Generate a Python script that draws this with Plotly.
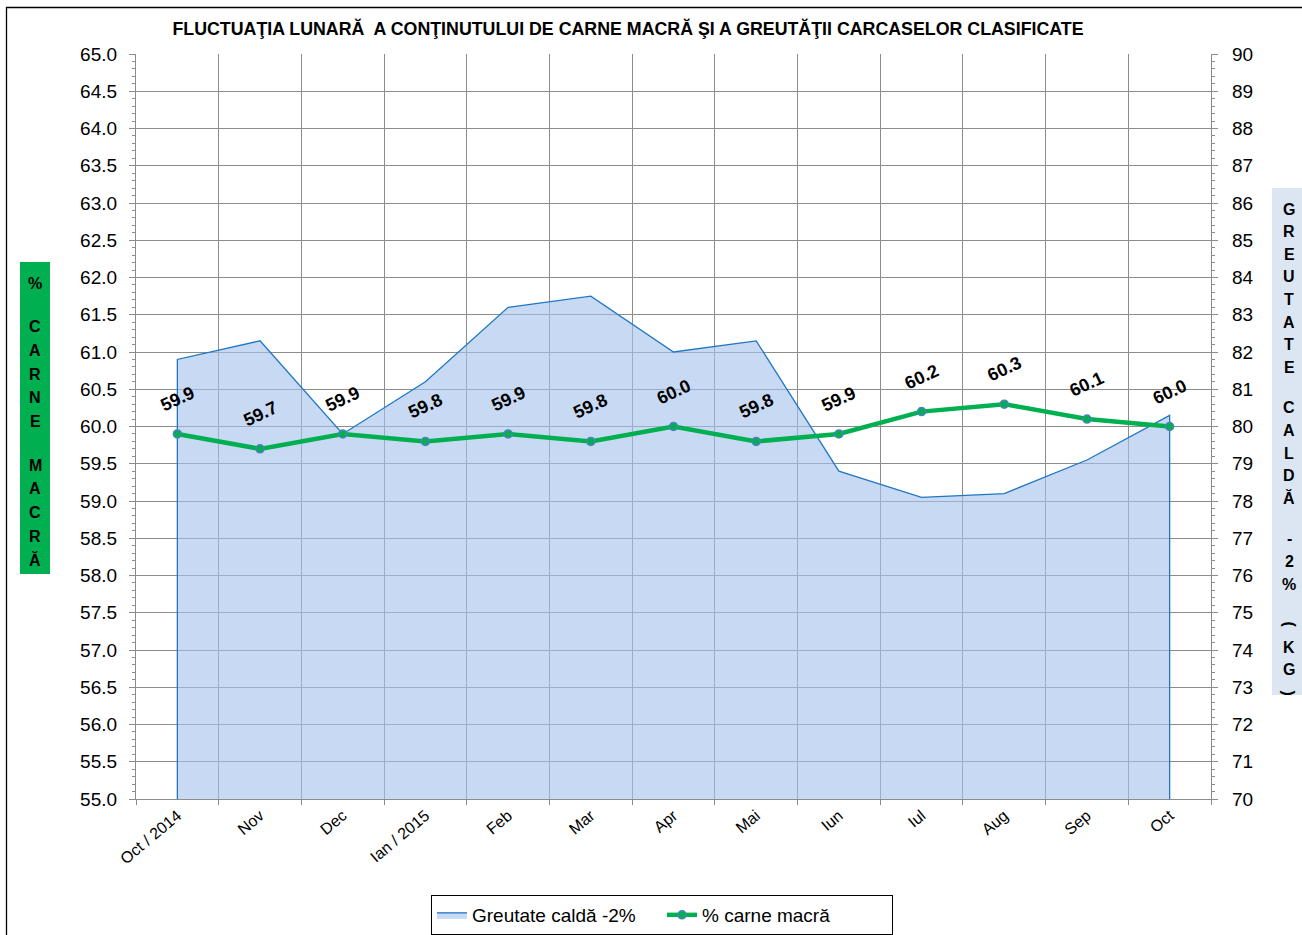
import plotly.graph_objects as go

# ---------------- data ----------------
months = ["Oct / 2014", "Nov", "Dec", "Ian / 2015", "Feb", "Mar", "Apr",
          "Mai", "Iun", "Iul", "Aug", "Sep", "Oct"]
greutate = [81.8, 82.3, 79.8, 81.2, 83.2, 83.5, 82.0, 82.3, 78.8, 78.1, 78.2, 79.1, 80.3]
carne = [59.9, 59.7, 59.9, 59.8, 59.9, 59.8, 60.0, 59.8, 59.9, 60.2, 60.3, 60.1, 60.0]

title_text = "FLUCTUAŢIA LUNARĂ  A CONŢINUTULUI DE CARNE MACRĂ ŞI A GREUTĂŢII CARCASELOR CLASIFICATE"
left_title = "% CARNE MACRĂ"
right_title = "GREUTATE CALDĂ -2% (KG)"
name_area = "Greutate caldă -2%"
name_line = "% carne macră"

carne_range = [55, 65]
greutate_range = [70, 90]

# ---------------- layout helpers ----------------
W, H = 1302, 935
ML, MR, MT, MB = 136, 91, 54, 136
PW, PH = W - ML - MR, H - MT - MB


def px(x):
    return (x - ML) / PW


def py(y):
    return (H - MB - y) / PH


FONT = "Liberation Sans, Arial, sans-serif"
GRID = "#8c8c8c"

fig = go.Figure()

# area (closed polygon down to the weight-axis minimum) on the base (right) axis
area_x = [months[0]] + months + [months[-1]]
area_y = [greutate_range[0]] + greutate + [greutate_range[0]]
fig.add_trace(go.Scatter(
    x=area_x, y=area_y, yaxis="y", mode="lines", fill="toself",
    fillcolor="rgba(166,196,235,0.62)",
    line=dict(color="#1f77c4", width=1.3),
    name=name_area, hoverinfo="skip"))

# lean meat line on the overlaying (left) axis, drawn above the area
fig.add_trace(go.Scatter(
    x=months, y=carne, yaxis="y2", mode="lines+markers",
    line=dict(color="#00b050", width=4.5),
    marker=dict(size=8, color="#00b050", line=dict(color="#4f81bd", width=1.5)),
    name=name_line))

annotations = []
for m, v in zip(months, carne):
    annotations.append(dict(
        x=m, y=v, xref="x", yref="y2", text=f"<b>{v:.1f}</b>", showarrow=False,
        yshift=35, textangle=-25, font=dict(family=FONT, size=18, color="black")))


def stacked(text, xc, ytop, step, space_step, color="black", size=16):
    out = []
    y = ytop
    for ch in text:
        if ch == " ":
            y += space_step
            continue
        ang = 90 if ch in "()" else 0
        out.append(dict(x=px(xc), y=py(y), xref="paper", yref="paper",
                        text=f"<b>{ch}</b>", showarrow=False, textangle=ang,
                        xanchor="center", yanchor="middle",
                        font=dict(family=FONT, size=size, color=color)))
        y += step
    return out


annotations += stacked(left_title, 35, 283, 23.7, 20)
annotations += stacked(right_title, 1289, 209, 22.6, 18)

shapes = [
    dict(type="rect", xref="paper", yref="paper", x0=px(20), x1=px(50),
         y0=py(262), y1=py(574), fillcolor="#00b050", line=dict(width=0), layer="below"),
    dict(type="rect", xref="paper", yref="paper", x0=px(1272), x1=px(1310),
         y0=py(188), y1=py(695), fillcolor="#dce6f2", line=dict(width=0), layer="below"),
    dict(type="rect", xref="paper", yref="paper", x0=px(6.5), x1=px(1320),
         y0=py(7.5), y1=py(960), fillcolor="rgba(0,0,0,0)",
         line=dict(color="black", width=1.3)),
]

fig.update_layout(
    width=W, height=H,
    margin=dict(l=ML, r=MR, t=MT, b=MB, autoexpand=False),
    paper_bgcolor="white", plot_bgcolor="white",
    font=dict(family=FONT, color="black"),
    title=dict(text=f"<b>{title_text}</b>", x=628 / W, y=1 - 29 / H,
               xanchor="center", yanchor="middle",
               font=dict(family=FONT, size=17.8, color="black")),
    xaxis=dict(type="category", categoryorder="array", categoryarray=months,
               range=[-0.5, len(months) - 0.5], tickson="boundaries",
               showgrid=True, gridcolor=GRID, gridwidth=1.2,
               showline=True, linecolor=GRID, linewidth=1.3,
               ticks="outside", ticklen=5, tickcolor=GRID, tickangle=-40,
               tickfont=dict(family=FONT, size=16), zeroline=False, automargin=False),
    yaxis=dict(range=greutate_range, dtick=1, side="right",
               showgrid=True, gridcolor=GRID, gridwidth=1.2,
               showline=True, linecolor=GRID, linewidth=1.3,
               ticks="outside", ticklen=6, tickcolor=GRID,
               minor=dict(dtick=0.2, ticks="outside", ticklen=3, tickcolor=GRID, showgrid=False),
               tickfont=dict(family=FONT, size=19), ticklabelstandoff=10, zeroline=False,
               automargin=False),
    yaxis2=dict(range=carne_range, dtick=0.5, tickformat=".1f", overlaying="y", side="left",
                showgrid=False, showline=True, linecolor=GRID, linewidth=1.3,
                ticks="outside", ticklen=6, tickcolor=GRID,
                minor=dict(dtick=0.1, ticks="outside", ticklen=3, tickcolor=GRID),
                tickfont=dict(family=FONT, size=19), ticklabelstandoff=8, zeroline=False,
                automargin=False),
    legend=dict(orientation="h", x=px(662), y=py(895), xanchor="center", yanchor="top",
                bordercolor="black", borderwidth=1, bgcolor="white",
                font=dict(family=FONT, size=19), entrywidth=185, entrywidthmode="pixels"),
    annotations=annotations,
    shapes=shapes,
    showlegend=True,
)

fig.write_html("out.html", config={"displayModeBar": False},
               post_script="document.body.style.margin='0';")
